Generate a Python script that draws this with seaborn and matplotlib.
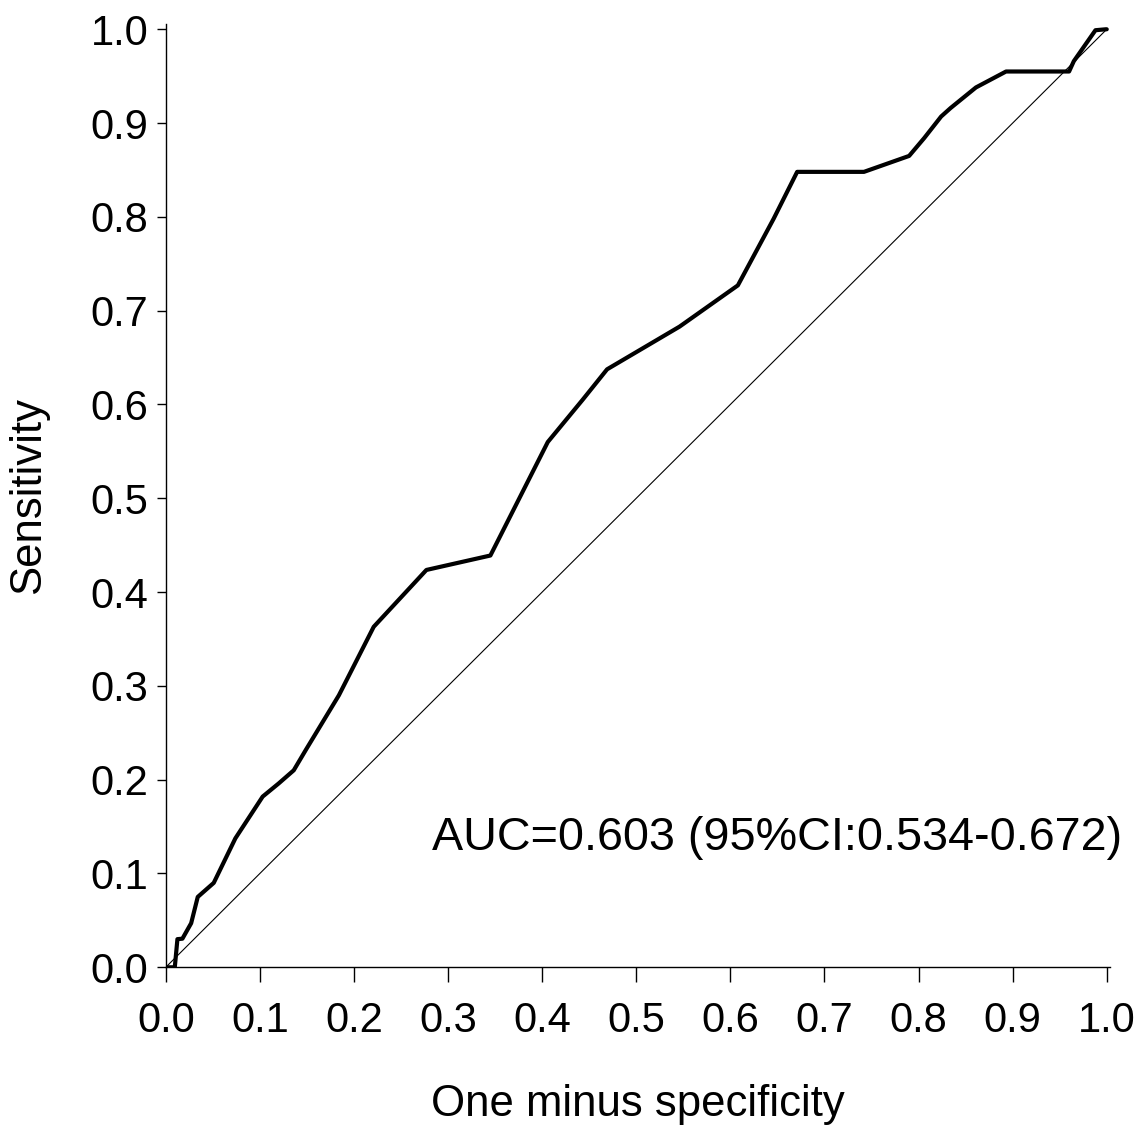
import matplotlib
matplotlib.use("Agg")
import matplotlib.pyplot as plt
import seaborn as sns
import pandas as pd

# ROC curve points
fpr = [0.0, 0.0096, 0.0124, 0.0177, 0.027, 0.034, 0.051, 0.074, 0.103, 0.120,
       0.136, 0.149, 0.184, 0.221, 0.277, 0.345, 0.406, 0.443, 0.469, 0.546,
       0.608, 0.646, 0.671, 0.742, 0.790, 0.806, 0.824, 0.834, 0.861, 0.893,
       0.960, 0.965, 0.988, 0.999, 1.0]
tpr = [0.0, 0.0, 0.030, 0.0305, 0.047, 0.075, 0.090, 0.1375, 0.182, 0.196,
       0.210, 0.232, 0.290, 0.363, 0.4236, 0.439, 0.560, 0.605, 0.6375, 0.683,
       0.727, 0.798, 0.848, 0.848, 0.865, 0.884, 0.907, 0.916, 0.938, 0.955,
       0.955, 0.966, 0.999, 1.0, 1.0]
ref_x = [0.0, 1.0]
ref_y = [0.0, 1.0]
ticks = [0.0, 0.1, 0.2, 0.3, 0.4, 0.5, 0.6, 0.7, 0.8, 0.9, 1.0]
tick_labels = ["0.0", "0.1", "0.2", "0.3", "0.4", "0.5", "0.6", "0.7", "0.8", "0.9", "1.0"]
auc_text = "AUC=0.603 (95%CI:0.534-0.672)"
xlabel = "One minus specificity"
ylabel = "Sensitivity"

sns.set_theme(style="ticks")
plt.rcParams["font.family"] = ["Liberation Sans", "DejaVu Sans"]

roc = pd.DataFrame({"fpr": fpr, "tpr": tpr})
diag = pd.DataFrame({"x": ref_x, "y": ref_y})

fig = plt.figure(figsize=(11.4, 11.32), dpi=100)
ax = fig.add_axes([0.1454, 0.1455, 0.8279, 0.8336])

sns.lineplot(data=diag, x="x", y="y", ax=ax, color="black", linewidth=0.8, sort=False)
sns.lineplot(data=roc, x="fpr", y="tpr", ax=ax, color="black", linewidth=3.0, sort=False)

ax.set_xlim(0, 1.003)
ax.set_ylim(0, 1.006)
ax.set_xticks(ticks)
ax.set_xticklabels(tick_labels)
ax.set_yticks(ticks)
ax.set_yticklabels(tick_labels)

for s in ["top", "right"]:
    ax.spines[s].set_visible(False)
for s in ["left", "bottom"]:
    ax.spines[s].set_linewidth(1.0)
    ax.spines[s].set_color("black")

ax.tick_params(axis="x", direction="out", length=11, width=1.0, pad=13,
               labelsize=30, colors="black")
ax.tick_params(axis="y", direction="out", length=6.5, width=1.0, pad=6,
               labelsize=30, colors="black")

ax.set_xlabel(xlabel, fontsize=31.5, labelpad=31, color="black")
ax.set_ylabel(ylabel, fontsize=31.5, labelpad=30, color="black")

ax.text(0.283, 0.125, auc_text, fontsize=33.7, color="black",
        ha="left", va="baseline")

fig.savefig("out.png", dpi=100, facecolor="white")
